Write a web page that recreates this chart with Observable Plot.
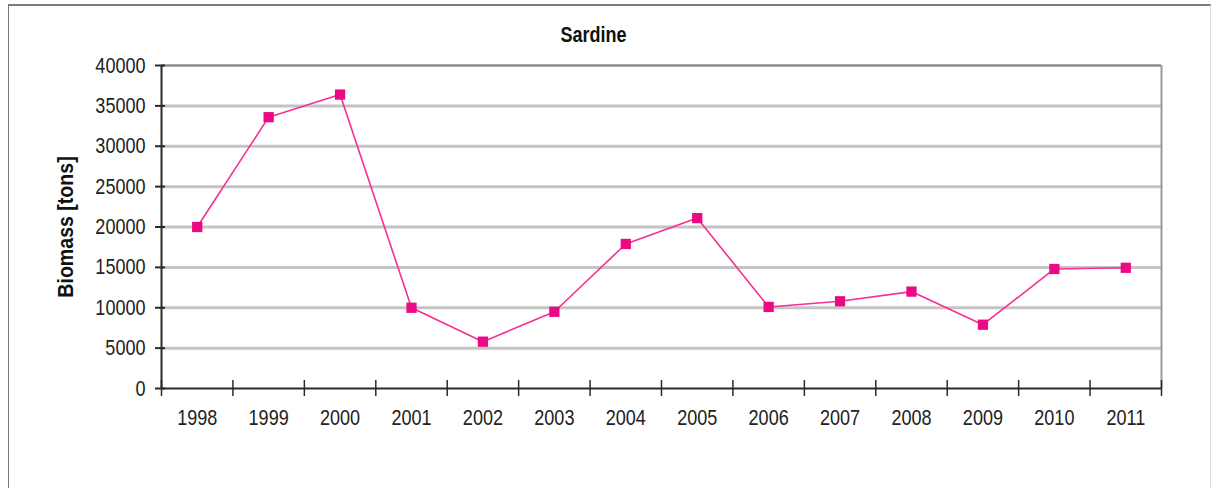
<!DOCTYPE html>
<html>
<head>
<meta charset="utf-8">
<script src="https://cdn.jsdelivr.net/npm/d3@7"></script>
<script src="https://cdn.jsdelivr.net/npm/@observablehq/plot@0.6"></script>
<style>
  html, body { margin: 0; padding: 0; background: #fff; }
  #wrap { position: relative; width: 1212px; height: 488px; overflow: hidden; }
  #frame { position: absolute; left: 8px; top: 4px; width: 1201px; height: 520px;
           border-top: 2px solid #7c7c7c; border-left: 1.5px solid #777; border-right: 1px solid #ddd;
           pointer-events: none; z-index: 2; }
  #chart { position: absolute; left: 0; top: 0; }
</style>
</head>
<body>
<div id="wrap"><div id="chart"></div><div id="frame"></div></div>
<script>
const title = "Sardine";
const yLabel = "Biomass [tons]";
const years = [1998, 1999, 2000, 2001, 2002, 2003, 2004, 2005, 2006, 2007, 2008, 2009, 2010, 2011];
const biomass = [20000, 33600, 36400, 10000, 5800, 9500, 17900, 21100, 10100, 10800, 12000, 7900, 14800, 14950];
const yTicks = [0, 5000, 10000, 15000, 20000, 25000, 30000, 35000, 40000];

const data = years.map((year, i) => ({year, value: biomass[i]}));
const bounds = years.map(y => y - 0.5).concat([years[years.length - 1] + 0.5]);
const xMin = bounds[0], xMax = bounds[bounds.length - 1];
const yMax = yTicks[yTicks.length - 1];

const chart = Plot.plot({
  width: 1212,
  height: 488,
  marginLeft: 161,
  marginRight: 51,
  marginTop: 65,
  marginBottom: 100,
  style: {background: "transparent", fontFamily: "'Liberation Sans', Arial, sans-serif", fontSize: "22px", color: "#222"},
  x: {type: "linear", domain: [xMin, xMax], ticks: years, tickSize: 0, tickPadding: 21, tickFormat: d => String(d), label: null},
  y: {domain: [0, yMax], ticks: yTicks, tickSize: 0, tickPadding: 16, tickFormat: d => String(d), label: null},
  marks: [
    Plot.ruleY(yTicks.slice(1, -1), {stroke: "#c4c4c4", strokeWidth: 3}),
    Plot.ruleY([yMax], {stroke: "#8c8c8c", strokeWidth: 2.5}),
    Plot.ruleX([xMax], {stroke: "#9a9a9a", strokeWidth: 2}),
    Plot.ruleY([0], {stroke: "#2a2a2a", strokeWidth: 2}),
    Plot.ruleX([xMin], {stroke: "#2a2a2a", strokeWidth: 2}),
    Plot.ruleX(bounds, {y1: 0, y2: 0, insetTop: -8, insetBottom: -8, stroke: "#2a2a2a", strokeWidth: 1.5}),
    Plot.ruleY(yTicks, {x1: xMin, x2: xMin, insetLeft: -6, insetRight: -4, stroke: "#2a2a2a", strokeWidth: 2}),
    Plot.line(data, {x: "year", y: "value", stroke: "#f52f93", strokeWidth: 1.6}),
    Plot.dot(data, {x: "year", y: "value", symbol: "square", r: 5.8, fill: "#ec0a84", stroke: "none"}),
    Plot.text([title], {text: d => d, frameAnchor: "top-left", dx: 432, dy: -31, textAnchor: "middle", lineAnchor: "middle", fontWeight: "bold", fontSize: 22.5, fill: "#111"}),
    Plot.text([yLabel], {text: d => d, frameAnchor: "left", dx: -96, rotate: -90, textAnchor: "middle", lineAnchor: "middle", fontWeight: "bold", fontSize: 22, fill: "#111"})
  ]
});
document.getElementById("chart").appendChild(chart);

// Condense text along its baseline, like the original narrow font.
d3.select(chart).selectAll("text").each(function () {
  const t = this.textContent.trim();
  let sx = null;
  if (/^\d+$/.test(t)) sx = 0.82;
  else if (t === title) sx = 0.8;
  else if (t === yLabel) sx = 0.89;
  if (sx !== null) {
    const prev = this.getAttribute("transform") || "";
    this.setAttribute("transform", (prev + ` scale(${sx},1)`).trim());
  }
});
</script>
</body>
</html>
